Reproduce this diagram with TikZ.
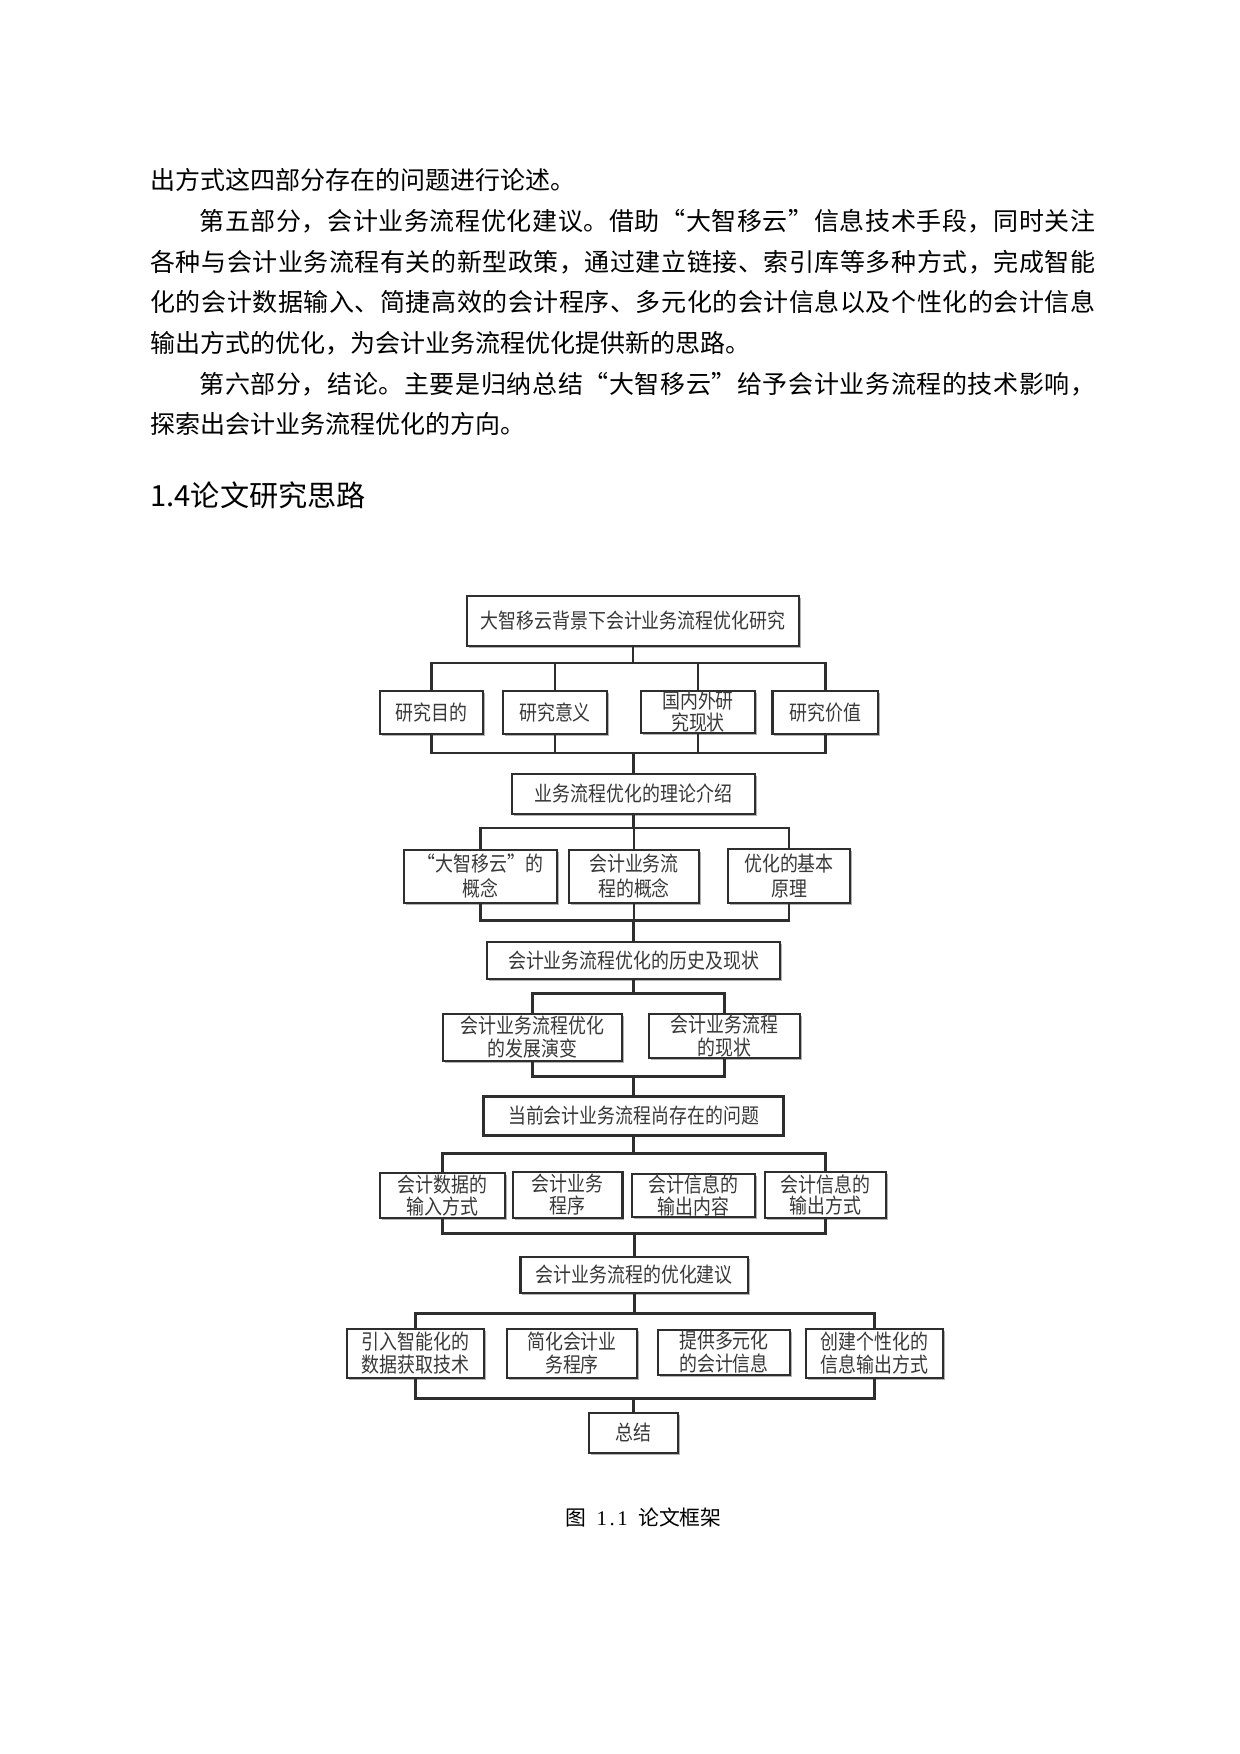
\documentclass[tikz,border=0pt]{standalone}
\usepackage{fontspec}
\usetikzlibrary{shadows}
\newfontfamily\cjk{Noto Sans CJK SC}
\newfontfamily\boxfont[FakeStretch=0.86]{Noto Sans CJK SC}
\newfontfamily\capserif{Liberation Serif}
\definecolor{ln}{HTML}{2E2E2E}
\definecolor{txt}{HTML}{383838}
\def\sprfirst#1{#1\sprnext}
\def\sprnext#1{\ifx#1\relax\else\hskip 0pt plus 1fil#1\expandafter\sprnext\fi}
\newcommand\spreadto[2]{\makebox[#1][s]{\sprfirst#2\relax}}
\tikzset{
  box/.style={draw=ln, line width=1.3pt, fill=white, inner sep=0pt, align=center,
    font=\boxfont\fontsize{10}{11}\selectfont, text=txt,
    drop shadow={shadow xshift=0.8pt, shadow yshift=-0.8pt, fill=black!30, opacity=1}},
  wh/.style 2 args={minimum width=#1*0.48pt, minimum height=#2*0.48pt},
  conn/.style={draw=ln, line width=1.4pt},
  body/.style={anchor=west, inner sep=0pt, font=\cjk\fontsize{12}{14}\selectfont, text=black},
}
\begin{document}
\begin{tikzpicture}[x=0.48pt, y=-0.48pt]
\fill[white] (0,0) rectangle (1240,1754);
\useasboundingbox (0,0) rectangle (1240,1754);

% body text
\node[body] (t1) at (150,180) {出方式这四部分存在的问题进行论述。};
\node[body] (t2) at (199,221) {\spreadto{430.08pt}{第五部分，会计业务流程优化建议。借助“大智移云”信息技术手段，同时关注}};
\node[body] (t3) at (150,262) {\spreadto{453.6pt}{各种与会计业务流程有关的新型政策，通过建立链接、索引库等多种方式，完成智能}};
\node[body] (t4) at (150,302) {\spreadto{453.6pt}{化的会计数据输入、简捷高效的会计程序、多元化的会计信息以及个性化的会计信息}};
\node[body] (t5) at (150,343) {输出方式的优化，为会计业务流程优化提供新的思路。};
\node[body] (t6) at (199,384) {\spreadto{430.08pt}{第六部分，结论。主要是归纳总结“大智移云”给予会计业务流程的技术影响，}};
\node[body] (t7) at (150,424) {探索出会计业务流程优化的方向。};
\node[anchor=west, inner sep=0pt, font=\cjk\fontsize{14}{16}\selectfont] (head) at (150,495) {1.4论文研究思路};

% boxes
\node[box, wh={332}{50}] (top) at (633,621) {大智移云背景下会计业务流程优化研究};
\node[box, wh={103}{43}] (r2a) at (431.5,712.5) {研究目的};
\node[box, wh={104}{43}] (r2b) at (555,712.5) {研究意义};
\node[box, wh={114}{42}, font=\boxfont\fontsize{10}{10.5}\selectfont] (r2c) at (698,712) {国内外研\\究现状};
\node[box, wh={105.5}{43}] (r2d) at (825.25,712.5) {研究价值};
\node[box, wh={243}{40}] (theory) at (633.5,794) {业务流程优化的理论介绍};
\node[box, wh={153}{53}, font=\boxfont\fontsize{10}{12}\selectfont] (r3a) at (480.5,876.5) {“大智移云”的\\概念};
\node[box, wh={130}{53}, font=\boxfont\fontsize{10}{12}\selectfont] (r3b) at (634,876.5) {会计业务流\\程的概念};
\node[box, wh={122}{54}, font=\boxfont\fontsize{10}{12}\selectfont] (r3c) at (789,876) {优化的基本\\原理};
\node[box, wh={293}{37}] (hist) at (633.5,960.5) {会计业务流程优化的历史及现状};
\node[box, wh={179}{47}, font=\boxfont\fontsize{10}{11}\selectfont] (r4a) at (532.5,1037.5) {会计业务流程优化\\的发展演变};
\node[box, wh={151}{44}, font=\boxfont\fontsize{10}{11}\selectfont] (r4b) at (724.5,1036) {会计业务流程\\的现状};
\node[box, wh={300}{39}] (prob) at (633.5,1116) {当前会计业务流程尚存在的问题};
\node[box, wh={125}{45}, font=\boxfont\fontsize{10}{10.5}\selectfont] (r5a) at (442.5,1195.5) {会计数据的\\输入方式};
\node[box, wh={109.5}{46}, font=\boxfont\fontsize{10}{10.5}\selectfont] (r5b) at (567.75,1195) {会计业务\\程序};
\node[box, wh={123}{43}, font=\boxfont\fontsize{10}{10.5}\selectfont] (r5c) at (693.5,1195.5) {会计信息的\\输出内容};
\node[box, wh={121}{46}, font=\boxfont\fontsize{10}{10.5}\selectfont] (r5d) at (825.5,1195) {会计信息的\\输出方式};
\node[box, wh={227.5}{36}] (sugg) at (634.25,1275) {会计业务流程的优化建议};
\node[box, wh={137}{49}, font=\boxfont\fontsize{10}{11}\selectfont] (r6a) at (415.5,1353.5) {引入智能化的\\数据获取技术};
\node[box, wh={130}{49}, font=\boxfont\fontsize{10}{11}\selectfont] (r6b) at (572,1353.5) {简化会计业\\务程序};
\node[box, wh={132}{45}, font=\boxfont\fontsize{10}{11}\selectfont] (r6c) at (724,1352.5) {提供多元化\\的会计信息};
\node[box, wh={137}{49}, font=\boxfont\fontsize{10}{11}\selectfont] (r6d) at (874.5,1353.5) {创建个性化的\\信息输出方式};
\node[box, wh={89}{40}] (sum) at (633.5,1433) {总结};

% bus coordinates
\coordinate (bA) at (633.5,663);
\coordinate (bB) at (633.5,753);
\coordinate (bC) at (633.5,828);
\coordinate (bD) at (633.5,920.7);
\coordinate (bE) at (633.5,993.3);
\coordinate (bF) at (633.5,1076.7);
\coordinate (bG) at (633.5,1153.3);
\coordinate (bH) at (633.5,1233.3);
\coordinate (bI) at (633.5,1313.3);
\coordinate (bJ) at (633.5,1398.3);

% group 1
\draw[conn] (top.south) -- (top.south |- bA);
\draw[conn] (r2a.north) |- (bA) -| (r2d.north);
\draw[conn] (r2b.north) -- (r2b.north |- bA);
\draw[conn] (r2c.north) -- (r2c.north |- bA);
\draw[conn] (r2a.south) |- (bB) -| (r2d.south);
\draw[conn] (r2b.south) -- (r2b.south |- bB);
\draw[conn] (r2c.south) -- (r2c.south |- bB);
\draw[conn] (theory.north |- bB) -- (theory.north);
% group 2
\draw[conn] (theory.south) -- (theory.south |- bC);
\draw[conn] (r3a.north) |- (bC) -| (r3c.north);
\draw[conn] (r3b.north) -- (r3b.north |- bC);
\draw[conn] (r3a.south) |- (bD) -| (r3c.south);
\draw[conn] (r3b.south) -- (r3b.south |- bD);
\draw[conn] (hist.north |- bD) -- (hist.north);
% group 3
\draw[conn] (hist.south) -- (hist.south |- bE);
\draw[conn] (r4a.north) |- (bE) -| (r4b.north);
\draw[conn] (r4a.south) |- (bF) -| (r4b.south);
\draw[conn] (prob.north |- bF) -- (prob.north);
% group 4
\draw[conn] (prob.south) -- (prob.south |- bG);
\draw[conn] (r5a.north) |- (bG) -| (r5d.north);
\draw[conn] (r5a.south) |- (bH) -| (r5d.south);
\draw[conn] (sugg.north |- bH) -- (sugg.north);
% group 5
\draw[conn] (sugg.south) -- (sugg.south |- bI);
\draw[conn] (r6a.north) |- (bI) -| (r6d.north);
\draw[conn] (r6a.south) |- (bJ) -| (r6d.south);
\draw[conn] (sum.north |- bJ) -- (sum.north);

% caption
\node[inner sep=0pt, font=\cjk\fontsize{10}{12}\selectfont] (cap) at (643.5,1518)
  {图\hspace{0.5em}{\capserif\makebox[0.5em]{1}\makebox[0.5em]{.}\makebox[0.5em]{1}}\hspace{0.5em}论文框架};
\end{tikzpicture}
\end{document}
